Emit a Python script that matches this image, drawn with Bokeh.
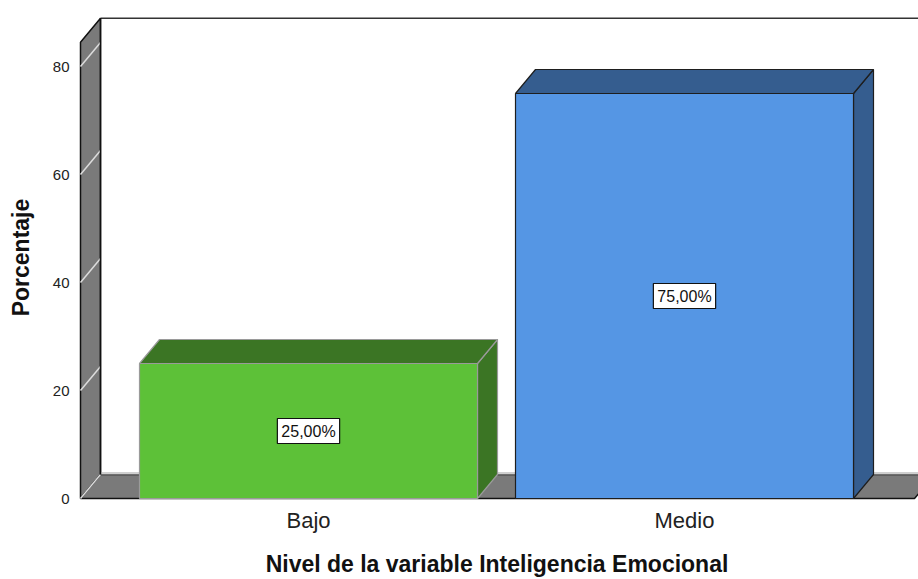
from bokeh.plotting import figure
from bokeh.models import Range1d, FixedTicker, Label
from bokeh.embed import file_html
from bokeh.resources import INLINE

# ---- data ----
categories = ["Bajo", "Medio"]
percentages = [25.0, 75.0]
value_labels = ["25,00%", "75,00%"]
y_ticks = [0, 20, 40, 60, 80]
front_colors = ["#5dc138", "#5596e4"]
shade_colors = ["#3b7524", "#355d8f"]
edge_colors = ["#9a9a9a", "#1e1e1e"]

FONT = "Liberation Sans"

# ---- geometry (pixel based scale) ----
PX_X = 376.0          # px per category step
PX_Y = 5.4            # px per percent
DX = 20 / PX_X        # depth offset (x)
DY = 24 / PX_Y        # depth offset (y)
BAR_W = 338 / PX_X
X_WALL = 1 + (80 - 308) / PX_X
X_FLOOR_END = 1 + (914 - 308) / PX_X
WALL_TOP = 84.5

xs = [i + 1 for i in range(len(categories))]

p = figure(width=918, height=579, output_backend="svg", toolbar_location=None,
           x_range=Range1d(1 + (75 - 308) / PX_X, 1 + (918 - 308) / PX_X),
           y_range=Range1d(-2 / PX_Y, (498 - 14) / PX_Y),
           min_border_left=75, min_border_right=0, min_border_top=14,
           min_border_bottom=79)
p.outline_line_color = None
p.grid.visible = False
p.background_fill_color = "white"
p.border_fill_color = "white"

# axes
p.xaxis.ticker = FixedTicker(ticks=xs)
p.xaxis.major_label_overrides = {x: c for x, c in zip(xs, categories)}
p.yaxis.ticker = FixedTicker(ticks=y_ticks)
for ax in (p.xaxis, p.yaxis):
    ax.axis_line_color = None
    ax.major_tick_line_color = None
    ax.minor_tick_line_color = None
    ax.major_label_text_font = FONT
    ax.major_label_text_color = "#222222"
    ax.axis_label_text_font = FONT
    ax.axis_label_text_font_style = "bold"
    ax.axis_label_text_font_size = "23px"
    ax.axis_label_text_color = "#111111"
p.xaxis.axis_label = "Nivel de la variable Inteligencia Emocional"
p.yaxis.axis_label = "Porcentaje"
p.xaxis.major_label_text_font_size = "22px"
p.yaxis.major_label_text_font_size = "15px"
p.xaxis.major_label_standoff = 1
p.xaxis.axis_label_standoff = 15
p.yaxis.major_label_standoff = 0
p.yaxis.axis_label_standoff = 16

# back plane top line
p.line([X_WALL + DX, 3.0], [WALL_TOP + DY, WALL_TOP + DY], line_color="#333333", line_width=1.5)

# left wall
p.patch([X_WALL, X_WALL, X_WALL + DX, X_WALL + DX],
        [0, WALL_TOP, WALL_TOP + DY, DY],
        fill_color="#7a7a7a", line_color="#111111", line_width=1.5)
for t in y_ticks[1:]:
    p.line([X_WALL, X_WALL + DX], [t, t + DY], line_color="#dcdcdc", line_width=1.5)

# floor
p.patch([X_WALL, X_FLOOR_END, X_FLOOR_END + DX, X_WALL + DX],
        [0, 0, DY, DY],
        fill_color="#7a7a7a", line_color="#111111", line_width=1.5)
p.line([X_WALL + DX, X_FLOOR_END + DX], [DY + 0.25, DY + 0.25], line_color="#cfcfcf", line_width=2.5)
p.line([X_WALL, X_WALL + DX], [0, DY], line_color="#dcdcdc", line_width=1.5)
p.line([X_WALL + DX, X_WALL + DX], [DY, WALL_TOP + DY], line_color="#111111", line_width=1.5)

# bars
lefts = [x - BAR_W / 2 for x in xs]
rights = [x + BAR_W / 2 for x in xs]
tops_x = [[l, r, r + DX, l + DX] for l, r in zip(lefts, rights)]
tops_y = [[v, v, v + DY, v + DY] for v in percentages]
side_x = [[r, r + DX, r + DX, r] for r in rights]
side_y = [[0, DY, v + DY, v] for v in percentages]

p.patches(side_x, side_y, fill_color=shade_colors, line_color=edge_colors, line_width=1.2)
p.patches(tops_x, tops_y, fill_color=shade_colors, line_color=edge_colors, line_width=1.2)
p.quad(left=lefts, right=rights, bottom=[0] * len(xs), top=percentages,
       fill_color=front_colors, line_color=edge_colors, line_width=1.2)

for x, v, t in zip(xs, percentages, value_labels):
    p.add_layout(Label(x=x, y=v / 2, text=t, text_align="center", text_baseline="middle",
                       text_font=FONT, text_font_size="16px", text_color="#111111",
                       background_fill_color="white", border_line_color="#111111",
                       border_line_width=1.2, padding=4))

open("out.html", "w").write(file_html(p, INLINE))
